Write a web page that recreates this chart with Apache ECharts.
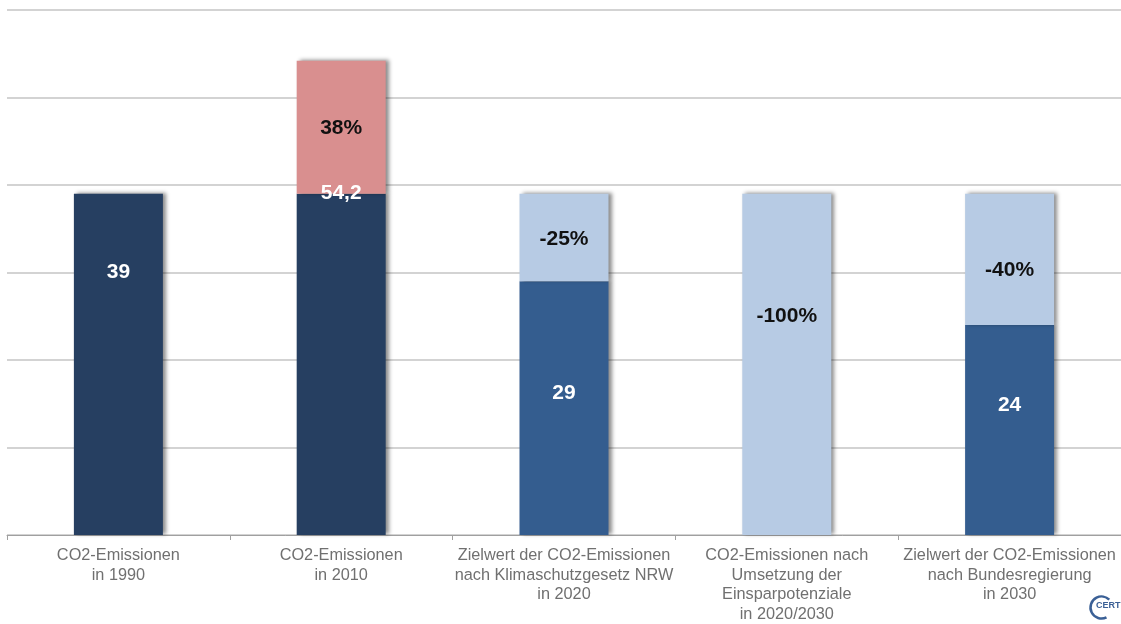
<!DOCTYPE html>
<html>
<head>
<meta charset="utf-8">
<script src="https://cdn.jsdelivr.net/npm/echarts@6/dist/echarts.min.js"></script>
<style>
html,body{margin:0;padding:0;background:#fff;overflow:hidden;}
#chart{width:100vw;height:100vh;}
</style>
</head>
<body>
<div id="chart"></div>
<script>
const categories = [
  'CO2-Emissionen\nin 1990',
  'CO2-Emissionen\nin 2010',
  'Zielwert der CO2-Emissionen\nnach Klimaschutzgesetz NRW\nin 2020',
  'CO2-Emissionen nach\nUmsetzung der\nEinsparpotenziale\nin 2020/2030',
  'Zielwert der CO2-Emissionen\nnach Bundesregierung\nin 2030'
];
const baseValues = [39, 39, 29, '-', 24];
const topValues = ['-', 15.2, 10, 39, 15];
const baseLabels = ['39', '54,2', '29', '', '24'];
const topLabels = ['', '38%', '-25%', '-100%', '-40%'];

const NAVY = '#263f61', MID = '#345d8f', LIGHT = '#b7cbe4', PINK = '#d98f8f';
const baseColors = [NAVY, NAVY, MID, MID, MID];
const topColors = [LIGHT, PINK, LIGHT, LIGHT, LIGHT];
const basePos = [['50%', '23%'], ['50%', -1], ['50%', '44%'], ['50%', '50%'], ['50%', '38%']];
const topPos = [['50%', '50%'], ['50%', '51%'], ['50%', '52%'], ['50%', '36%'], ['50%', '58%']];

const shadow = {
  shadowColor: 'rgba(0,0,0,0.45)',
  shadowBlur: 4,
  shadowOffsetX: 3,
  shadowOffsetY: -1
};

function buildData(values, labels, colors, pos, labelColor) {
  return values.map((v, i) => ({
    value: v,
    itemStyle: Object.assign({ color: colors[i] }, shadow),
    label: {
      show: labels[i] !== '',
      formatter: labels[i],
      position: pos[i],
      align: 'center',
      verticalAlign: 'middle',
      color: labelColor,
      fontSize: 21,
      fontWeight: 'bold',
      fontFamily: 'Liberation Sans, Arial, sans-serif'
    }
  }));
}

const chart = echarts.init(document.getElementById('chart'));
chart.setOption({
  animation: false,
  backgroundColor: '#ffffff',
  grid: { left: 7, width: 1122, top: 10, height: 529, containLabel: false },
  xAxis: {
    type: 'category',
    data: categories,
    axisLine: { lineStyle: { color: '#a0a0a0', width: 1 } },
    axisTick: { show: true, length: 5, lineStyle: { color: '#a0a0a0' } },
    axisLabel: {
      interval: 0,
      margin: 11,
      fontSize: 16.3,
      lineHeight: 19.5,
      color: '#707070',
      fontFamily: 'Liberation Sans, Arial, sans-serif'
    }
  },
  yAxis: {
    type: 'value',
    min: 0,
    max: 60,
    interval: 10,
    axisLabel: { show: false },
    axisLine: { show: false },
    axisTick: { show: false },
    splitLine: { lineStyle: { color: '#c4c4c4', width: 1.5 } }
  },
  series: [
    {
      type: 'bar',
      stack: 'total',
      barWidth: 89,
      data: buildData(baseValues, baseLabels, baseColors, basePos, '#ffffff')
    },
    {
      type: 'bar',
      stack: 'total',
      barWidth: 89,
      data: buildData(topValues, topLabels, topColors, topPos, '#111111')
    }
  ],
  graphic: [
    {
      type: 'arc',
      left: 1088,
      top: 594,
      shape: { cx: 12, cy: 12, r: 11, startAngle: Math.PI * 0.35, endAngle: Math.PI * 1.75 },
      style: { stroke: '#3b6096', lineWidth: 2.5, fill: null }
    },
    {
      type: 'text',
      left: 1096,
      top: 601,
      style: { text: 'CERT', fill: '#3b6096', font: 'bold 9px Liberation Sans, Arial, sans-serif' }
    }
  ]
});
</script>
</body>
</html>
